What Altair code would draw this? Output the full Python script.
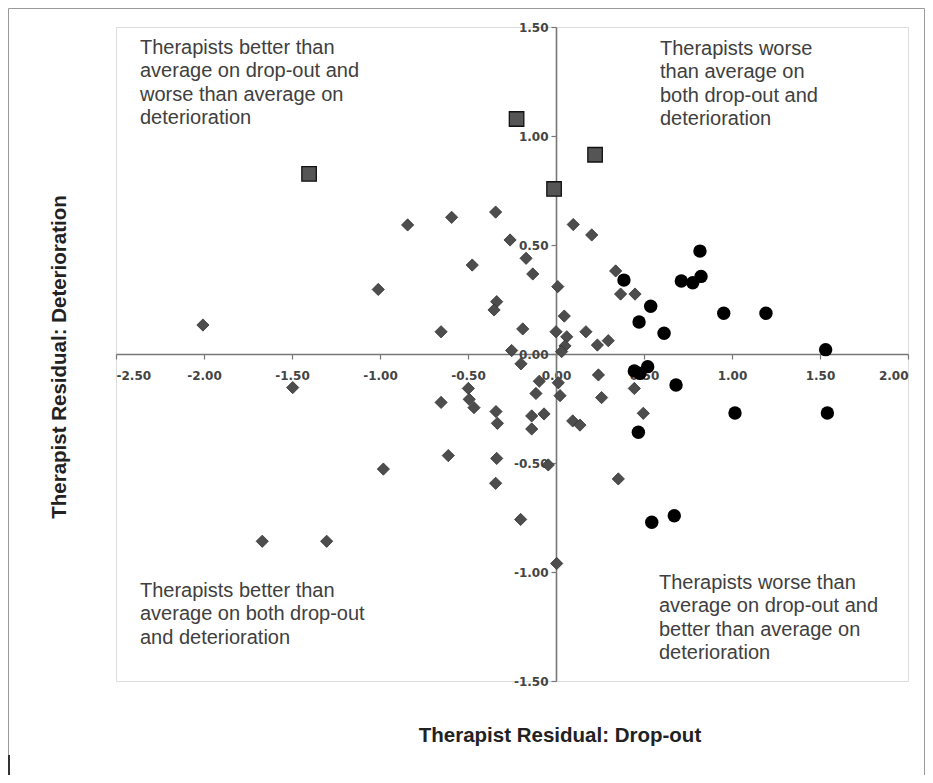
import altair as alt
import pandas as pd

# ---- data ----
diamond_x = [-2.006, -1.01, -0.843, -0.593, -0.343, -0.261, -0.170, -0.132, -0.476, -0.337,
             -0.352, -0.653, -0.189, 0.010, 0.000, -0.252, 0.098, 0.203, 0.047, 0.061,
             0.051, 0.032, 0.170, 0.235, 0.297, 0.339, 0.367, 0.449,
             -0.199, -1.496, -0.653, -0.498, -0.493, -0.466, -0.341, -0.333, -0.138, -0.138,
             -0.068, -0.095, -0.114, -0.612, -0.337, -0.981, -0.343, -0.044, -0.201, -1.669,
             -1.303, 0.004, 0.013, 0.023, 0.241, 0.259, 0.445, 0.496, 0.095, 0.136, 0.354]
diamond_y = [0.133, 0.296, 0.592, 0.627, 0.651, 0.523, 0.439, 0.367, 0.408, 0.240,
             0.202, 0.102, 0.115, 0.309, 0.102, 0.016, 0.594, 0.546, 0.174, 0.079,
             0.037, 0.011, 0.102, 0.041, 0.061, 0.381, 0.275, 0.275,
             -0.045, -0.154, -0.222, -0.158, -0.208, -0.246, -0.264, -0.318, -0.284, -0.344,
             -0.275, -0.125, -0.181, -0.466, -0.479, -0.528, -0.593, -0.509, -0.759, -0.859,
             -0.859, -0.961, -0.132, -0.191, -0.096, -0.200, -0.158, -0.272, -0.307, -0.326, -0.573]

square_x = [-1.403, -0.224, -0.011, 0.222]
square_y = [0.826, 1.078, 0.757, 0.914]

circle_x = [0.386, 0.818, 0.712, 0.777, 0.824, 0.538, 0.472, 0.614, 0.953, 1.193, 1.532,
            0.445, 0.477, 0.521, 0.682, 1.017, 1.542, 0.468, 0.544, 0.672]
circle_y = [0.339, 0.472, 0.335, 0.327, 0.356, 0.219, 0.147, 0.095, 0.187, 0.187, 0.020,
            -0.078, -0.089, -0.058, -0.142, -0.271, -0.271, -0.359, -0.772, -0.742]

x_ticks = [-2.5, -2.0, -1.5, -1.0, -0.5, 0.0, 0.5, 1.0, 1.5, 2.0]
y_ticks = [-1.5, -1.0, -0.5, 0.0, 0.5, 1.0, 1.5]

x_title = "Therapist Residual: Drop-out"
y_title = "Therapist Residual: Deterioration"

quadrant_texts = [
    ["Therapists better than", "average on drop-out and", "worse than average on", "deterioration"],
    ["Therapists worse", "than average on", "both drop-out and", "deterioration"],
    ["Therapists better than", "average on both drop-out", "and deterioration"],
    ["Therapists worse than", "average on drop-out and", "better than average on", "deterioration"],
]

# ---- layout ----
W, H = 792, 654

dia = pd.DataFrame({"x": diamond_x, "y": diamond_y})
sq = pd.DataFrame({"x": square_x, "y": square_y})
cir = pd.DataFrame({"x": circle_x, "y": circle_y})

xscale = alt.Scale(domain=[-2.5, 2.0], nice=False, zero=False)
yscale = alt.Scale(domain=[-1.5, 1.5], nice=False, zero=False)

label_expr = "datum.value < 0 ? '-' + format(abs(datum.value), '.2f') : format(datum.value, '.2f')"

axis_common = dict(
    grid=False, title=None, labelExpr=label_expr,
    labelFont="DejaVu Sans", labelFontWeight="bold", labelFontSize=12, labelColor="#444444",
    domainColor="#777777", domainWidth=1.6, tickColor="#777777", tickWidth=1.2, tickSize=5,
)
xaxis = alt.Axis(values=x_ticks, offset=-327, labelPadding=11, **axis_common)
yaxis = alt.Axis(values=y_ticks, offset=-440, labelPadding=3, **axis_common)

base_x = alt.X("x:Q", scale=xscale, axis=xaxis)
base_y = alt.Y("y:Q", scale=yscale, axis=yaxis)

diamonds = alt.Chart(dia).mark_point(
    shape="diamond", filled=True, size=150, color="#4d4d4d", stroke="#333333", strokeWidth=0.8, opacity=1
).encode(x=base_x, y=base_y)

squares = alt.Chart(sq).mark_point(
    shape="square", filled=True, size=210, fill="#555555", stroke="#111111", strokeWidth=1.3, opacity=1
).encode(x="x:Q", y="y:Q")

circles = alt.Chart(cir).mark_point(
    shape="circle", filled=True, size=180, color="#000000", opacity=1
).encode(x="x:Q", y="y:Q")

def qtext(lines, px, py):
    return alt.Chart(pd.DataFrame({"t": [lines]})).mark_text(
        align="left", baseline="top", font="Liberation Sans", fontSize=20,
        lineHeight=23.3, color="#404040"
    ).encode(text="t", x=alt.value(px), y=alt.value(py))

texts = [
    qtext(quadrant_texts[0], 24, 11),
    qtext(quadrant_texts[1], 544, 12),
    qtext(quadrant_texts[2], 24, 554),
    qtext(quadrant_texts[3], 543, 546),
]

xt = alt.Chart(pd.DataFrame({"t": [x_title]})).mark_text(
    font="Liberation Sans", fontWeight="bold", fontSize=20.5, color="#222222",
    align="center", baseline="middle"
).encode(text="t", x=alt.value(444), y=alt.value(709))

yt = alt.Chart(pd.DataFrame({"t": [y_title]})).mark_text(
    font="Liberation Sans", fontWeight="bold", fontSize=20.5, color="#222222",
    align="center", baseline="middle", angle=270
).encode(text="t", x=alt.value(-56), y=alt.value(330))

# outer picture border (top, left, right)
frame_top = alt.Chart(pd.DataFrame({"k": [0]})).mark_rule(color="#9a9a9a", strokeWidth=1).encode(
    x=alt.value(-107.5), x2=alt.value(808.5), y=alt.value(-18.5))
frame_left = alt.Chart(pd.DataFrame({"k": [0]})).mark_rule(color="#9a9a9a", strokeWidth=1).encode(
    x=alt.value(-107.5), y=alt.value(-18.5), y2=alt.value(748))
frame_right = alt.Chart(pd.DataFrame({"k": [0]})).mark_rule(color="#9a9a9a", strokeWidth=1).encode(
    x=alt.value(808.5), y=alt.value(-18.5), y2=alt.value(748))
left_mark = alt.Chart(pd.DataFrame({"k": [0]})).mark_rule(color="#333333", strokeWidth=2).encode(
    x=alt.value(-107), y=alt.value(728), y2=alt.value(748))

chart = alt.layer(
    diamonds, squares, circles, *texts, xt, yt, frame_top, frame_left, frame_right, left_mark
).properties(
    width=W, height=H,
    autosize=alt.AutoSizeParams(type="none"),
    padding={"left": 108, "top": 19, "right": 17, "bottom": 94},
).configure_view(
    stroke="#9a9a9a", strokeWidth=1.5
).configure(background="white")

chart.save("out.html", embed_options={"renderer": "svg", "actions": False})
